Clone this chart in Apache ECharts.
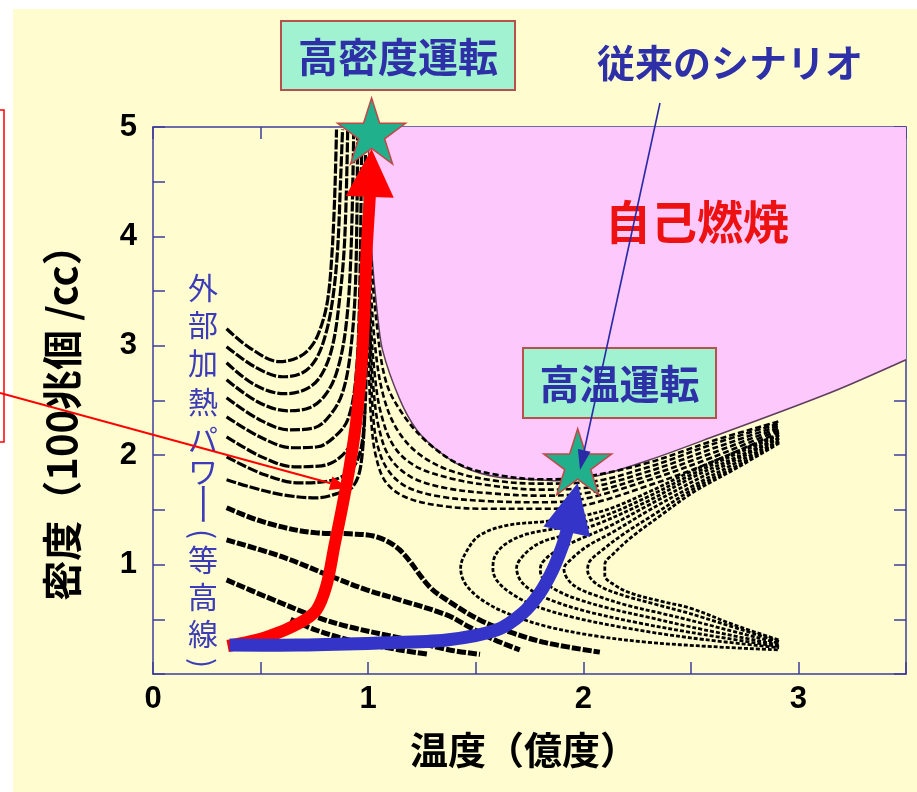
<!DOCTYPE html>
<html>
<head>
<meta charset="utf-8">
<script src="https://cdn.jsdelivr.net/npm/echarts/dist/echarts.min.js"></script>
<style>
  html, body { margin: 0; padding: 0; background: #fff; }
  #main { width: 917px; height: 792px; }
</style>
</head>
<body>
<div id="main"></div>
<script>
// temperature (1e8 deg) vs density (1e14 /cc)
const xTicks = [0, 1, 2, 3]
const yTicks = [1, 2, 3, 4, 5]

// edge of the self-ignition region
const ignitionEdge = [[1.0, 5.0], [1.007, 4.34], [1.016, 3.88], [1.04, 3.35], [1.067, 2.96], [1.147, 2.51], [1.226, 2.23], [1.319, 2.05], [1.44, 1.894], [1.598, 1.80], [1.784, 1.775], [1.877, 1.766], [2.063, 1.81], [2.309, 1.958], [2.602, 2.168], [3.147, 2.571], [3.5, 2.873]]

// external heating power contours, upper left (U shaped)
const contoursUpperLeft = [
  [[0.342, 3.156], [0.449, 2.982], [0.588, 2.855], [0.681, 2.900], [0.742, 3.010], [0.784, 3.193], [0.812, 3.422], [0.830, 3.788], [0.844, 4.337], [0.853, 4.977]],
  [[0.342, 2.992], [0.472, 2.809], [0.602, 2.717], [0.695, 2.754], [0.756, 2.873], [0.802, 3.102], [0.835, 3.422], [0.858, 3.879], [0.872, 4.520], [0.881, 4.977]],
  [[0.342, 2.845], [0.472, 2.644], [0.612, 2.562], [0.705, 2.598], [0.774, 2.708], [0.830, 2.964], [0.867, 3.422], [0.891, 3.971], [0.905, 4.977]],
  [[0.342, 2.690], [0.486, 2.489], [0.626, 2.406], [0.728, 2.434], [0.798, 2.543], [0.853, 2.754], [0.895, 3.147], [0.919, 3.788], [0.933, 4.977]],
  [[0.342, 2.525], [0.495, 2.324], [0.635, 2.232], [0.751, 2.251], [0.821, 2.360], [0.881, 2.571], [0.919, 2.964], [0.942, 3.605], [0.951, 4.977]],
  [[0.342, 2.351], [0.505, 2.159], [0.649, 2.068], [0.765, 2.077], [0.844, 2.168], [0.905, 2.324], [0.942, 2.690], [0.960, 3.422], [0.970, 4.977]],
  [[0.342, 2.168], [0.505, 1.985], [0.658, 1.894], [0.784, 1.903], [0.867, 1.976], [0.928, 2.141], [0.960, 2.507], [0.979, 3.239], [0.988, 4.977]],
  [[0.342, 1.985], [0.519, 1.821], [0.681, 1.747], [0.821, 1.766], [0.900, 1.830], [0.951, 1.958], [0.979, 2.232], [0.993, 2.964], [0.998, 4.337]],
  [[0.342, 1.775], [0.449, 1.711], [0.602, 1.638], [0.760, 1.610], [0.867, 1.656], [0.928, 1.711], [0.965, 1.894], [0.985, 2.4]]
]

// contours hugging the ignition edge
const contoursUpperMid = [
  [[0.995, 4.6], [1.01, 3.9], [1.04, 3.2], [1.085, 2.66], [1.17, 2.35], [1.28, 2.11], [1.43, 1.91], [1.6, 1.82], [1.8, 1.78], [2.0, 1.80], [2.3, 1.93], [2.6, 2.13], [2.91, 2.31]],
  [[0.997, 4.3], [1.01, 3.6], [1.035, 2.95], [1.07, 2.55], [1.13, 2.25], [1.23, 2.02], [1.38, 1.86], [1.58, 1.77], [1.8, 1.74], [2.0, 1.75], [2.3, 1.89], [2.6, 2.1], [2.91, 2.29]],
  [[1.0, 4.0], [1.01, 3.3], [1.03, 2.75], [1.06, 2.38], [1.12, 2.08], [1.22, 1.9], [1.38, 1.79], [1.58, 1.72], [1.8, 1.685], [2.0, 1.7], [2.3, 1.85], [2.6, 2.06], [2.91, 2.27]],
  [[1.0, 3.7], [1.01, 3.1], [1.025, 2.6], [1.05, 2.25], [1.1, 1.98], [1.2, 1.8], [1.36, 1.7], [1.58, 1.65], [1.8, 1.63], [2.0, 1.65], [2.3, 1.81], [2.6, 2.02], [2.91, 2.25]],
  [[1.0, 3.4], [1.01, 2.9], [1.02, 2.45], [1.04, 2.12], [1.09, 1.87], [1.18, 1.71], [1.34, 1.62], [1.56, 1.58], [1.8, 1.57], [2.0, 1.6], [2.3, 1.77], [2.6, 1.98], [2.91, 2.23]],
  [[1.0, 3.1], [1.005, 2.7], [1.015, 2.3], [1.035, 2.0], [1.08, 1.76], [1.17, 1.62], [1.33, 1.54], [1.55, 1.51], [1.8, 1.51], [2.0, 1.54], [2.3, 1.72], [2.6, 1.94], [2.91, 2.21]]
]

// lower left, falling to the right
const contoursLowerLeft = [
  [[0.342, 1.519], [0.528, 1.381], [0.76, 1.29], [0.914, 1.281], [1.04, 1.253], [1.147, 1.134], [1.286, 0.796], [1.365, 0.677], [1.519, 0.494], [1.672, 0.375], [1.83, 0.284], [2.077, 0.2]],
  [[0.342, 1.226], [0.602, 1.07], [0.835, 0.887], [0.993, 0.769], [1.147, 0.677], [1.365, 0.54], [1.47, 0.43], [1.579, 0.32], [1.705, 0.22]],
  [[0.342, 0.86], [0.528, 0.704], [0.76, 0.521], [0.914, 0.43], [1.147, 0.329], [1.379, 0.22], [1.52, 0.18]],
  [[0.64, 0.50], [0.76, 0.40], [0.914, 0.31], [1.147, 0.22], [1.28, 0.18]]
]

// right side, opening to the right
const contoursRight = [
  [[2.91, 2.19], [2.71, 2.03], [2.51, 1.86], [2.3, 1.66], [2.09, 1.49], [1.85, 1.40], [1.65, 1.36], [1.52, 1.27], [1.46, 1.13], [1.43, 0.97], [1.45, 0.83], [1.52, 0.69], [1.64, 0.56], [1.82, 0.44], [2.05, 0.35], [2.3, 0.29], [2.6, 0.25], [2.91, 0.22]],
  [[2.91, 2.18], [2.71, 2.01], [2.51, 1.83], [2.3, 1.62], [2.09, 1.44], [1.9, 1.34], [1.74, 1.28], [1.64, 1.19], [1.59, 1.08], [1.58, 0.96], [1.6, 0.85], [1.67, 0.73], [1.78, 0.62], [1.95, 0.52], [2.2, 0.42], [2.5, 0.33], [2.91, 0.24]],
  [[2.91, 2.16], [2.71, 1.98], [2.51, 1.80], [2.3, 1.58], [2.09, 1.39], [1.93, 1.28], [1.8, 1.2], [1.73, 1.1], [1.69, 0.97], [1.71, 0.85], [1.77, 0.75], [1.87, 0.66], [2.02, 0.57], [2.25, 0.47], [2.5, 0.38], [2.91, 0.25]],
  [[2.91, 2.15], [2.71, 1.96], [2.51, 1.76], [2.3, 1.54], [2.12, 1.35], [1.98, 1.23], [1.87, 1.12], [1.81, 1.02], [1.80, 0.95], [1.82, 0.85], [1.88, 0.76], [1.98, 0.68], [2.12, 0.6], [2.3, 0.52], [2.5, 0.43], [2.91, 0.265]],
  [[2.91, 2.13], [2.71, 1.93], [2.51, 1.72], [2.3, 1.49], [2.14, 1.3], [2.02, 1.17], [1.95, 1.06], [1.91, 0.96], [1.93, 0.86], [1.98, 0.78], [2.07, 0.71], [2.2, 0.63], [2.35, 0.56], [2.5, 0.49], [2.91, 0.28]],
  [[2.91, 2.12], [2.71, 1.9], [2.51, 1.69], [2.33, 1.46], [2.18, 1.27], [2.08, 1.12], [2.03, 1.03], [2.02, 0.95], [2.04, 0.86], [2.1, 0.78], [2.2, 0.71], [2.33, 0.64], [2.5, 0.55], [2.91, 0.295]],
  [[2.91, 2.11], [2.71, 1.88], [2.51, 1.66], [2.36, 1.45], [2.23, 1.26], [2.14, 1.1], [2.1, 1.0], [2.1, 0.9], [2.14, 0.82], [2.22, 0.74], [2.35, 0.67], [2.5, 0.6], [2.7, 0.45], [2.91, 0.31]]
]

// operating paths
const denseRoute = [[0.347, 0.256], [0.528, 0.339], [0.681, 0.467], [0.760, 0.586], [0.807, 0.814], [0.844, 1.180], [0.877, 1.500], [0.914, 1.894], [0.947, 2.351], [0.974, 2.964], [0.993, 3.879], [1.007, 4.337]]
const denseTip = [1.016, 4.80]
const hotRoute = [[0.356, 0.265], [0.681, 0.265], [1.053, 0.284], [1.365, 0.311], [1.598, 0.403], [1.719, 0.558], [1.798, 0.741], [1.858, 0.952], [1.900, 1.153], [1.923, 1.299]]
const hotTip = [1.974, 1.747]
const goalPoints = [[1.016, 4.963], [1.974, 1.94]]

// vertical caption, one glyph per entry: [text, centre y, turned]
const sideCaption = [['外', 288, 0], ['部', 325, 0], ['加', 363, 0], ['熱', 402, 0], ['パ', 440, 0], ['ワ', 472, 0], ['ー', 504, 1], ['(', 534, 1], ['等', 560, 0], ['高', 597, 0], ['線', 634, 0], [')', 663, 1]]

const AXIS_BLUE = '#3c3c9c'
const LABEL_BLUE = '#2e30a8'
const STAR = 'path://M50 0 L61.23 34.55 L97.55 34.55 L68.17 55.9 L79.39 90.45 L50 69.1 L20.61 90.45 L31.83 55.9 L2.45 34.55 L38.77 34.55 Z'
const CJK = '"Noto Sans CJK JP", sans-serif'

const chart = echarts.init(document.getElementById('main'))

function contour(pts, width, dash) {
  return {
    type: 'line',
    data: pts,
    smooth: 0.35,
    symbol: 'none',
    silent: true,
    z: 3,
    lineStyle: { color: '#000', width: width, type: dash, cap: 'butt' }
  }
}

function thickArrow(route, tip, color, width, headLen, headWidth) {
  return {
    type: 'custom',
    silent: true,
    clip: false,
    z: 8,
    data: [0],
    renderItem: function(params, api) {
      const pts = route.map(p => api.coord(p))
      const t = api.coord(tip)
      const last = pts[pts.length - 1]
      let dx = t[0] - last[0]
      let dy = t[1] - last[1]
      const len = Math.hypot(dx, dy)
      dx /= len
      dy /= len
      const bx = t[0] - dx * headLen
      const by = t[1] - dy * headLen
      pts.push([bx + dx * 3, by + dy * 3])
      return {
        type: 'group',
        children: [
          {
            type: 'polyline',
            shape: { points: pts, smooth: 0.3 },
            style: { stroke: color, lineWidth: width, fill: null, lineJoin: 'round' }
          },
          {
            type: 'polygon',
            shape: { points: [t, [bx - dy * headWidth / 2, by + dx * headWidth / 2], [bx + dy * headWidth / 2, by - dx * headWidth / 2]] },
            style: { fill: color }
          }
        ]
      }
    }
  }
}

function thinArrow(x1, y1, x2, y2, color, w, hl, hw) {
  const L = Math.hypot(x2 - x1, y2 - y1)
  const ux = (x2 - x1) / L
  const uy = (y2 - y1) / L
  const bx = x2 - ux * hl
  const by = y2 - uy * hl
  return [
    { type: 'line', z: 60, shape: { x1: x1, y1: y1, x2: bx, y2: by }, style: { stroke: color, lineWidth: w } },
    { type: 'polygon', z: 60, shape: { points: [[x2, y2], [bx - uy * hw / 2, by + ux * hw / 2], [bx + uy * hw / 2, by - ux * hw / 2]] }, style: { fill: color } }
  ]
}

function label(x, y, text, font, color, extra) {
  return Object.assign({
    type: 'text', z: 51, x: x, y: y,
    style: { text: text, font: font, fill: color, align: 'center', verticalAlign: 'middle', textAlign: 'center', textVerticalAlign: 'middle' }
  }, extra || {})
}

function textBox(x, y, w, h, text) {
  return [
    { type: 'rect', z: 50, shape: { x: x, y: y, width: w, height: h }, style: { fill: '#a0f2d0', stroke: '#b5524c', lineWidth: 2 } },
    label(x + w / 2, y + h / 2 + 1, text, 'bold 40px ' + CJK, LABEL_BLUE)
  ]
}

function valueAxis(pos, min, max, showLabels, isY) {
  return {
    type: 'value',
    position: pos,
    min: min,
    max: max,
    interval: 0.5,
    axisLine: { show: true, onZero: false, lineStyle: { color: AXIS_BLUE, width: 1.5 } },
    axisTick: { show: true, inside: true, length: 12, lineStyle: { color: AXIS_BLUE, width: 1.5 } },
    splitLine: { show: false },
    axisLabel: {
      show: showLabels,
      margin: isY ? 16 : 10,
      fontSize: 31,
      fontWeight: 'bold',
      color: '#000',
      fontFamily: '"Liberation Sans", Arial, sans-serif',
      formatter: function(v) {
        const ticks = isY ? yTicks : xTicks
        return ticks.indexOf(v) >= 0 ? String(v) : ''
      }
    }
  }
}

const series = [
  {
    type: 'line',
    data: ignitionEdge,
    smooth: 0.3,
    symbol: 'none',
    silent: true,
    z: 1,
    lineStyle: { color: '#5e3d5e', width: 1.5 },
    areaStyle: { color: '#fdc8fc', origin: 'end', opacity: 1 }
  }
]
contoursUpperLeft.forEach(c => series.push(contour(c, 3.2, [10, 2])))
contoursUpperMid.forEach(c => series.push(contour(c, 2.6, [6, 3])))
contoursLowerLeft.forEach(c => series.push(contour(c, 5, [9, 2])))
contoursRight.forEach(c => series.push(contour(c, 2.8, [4, 2])))
series.push(thickArrow(denseRoute, denseTip, '#ff0000', 12, 48, 48))
series.push(thickArrow(hotRoute, hotTip, '#3434c8', 13, 50, 48))
series.push({
  type: 'scatter',
  data: goalPoints,
  symbol: STAR,
  symbolSize: [68, 66],
  silent: true,
  clip: false,
  z: 10,
  itemStyle: { color: '#20b08c', borderColor: '#c04848', borderWidth: 1.5, opacity: 1 }
})

let graphics = [
  { type: 'rect', z: 40, shape: { x: 0, y: 0, width: 13, height: 792 }, style: { fill: '#fff' } },
  { type: 'rect', z: 40, shape: { x: 0, y: 0, width: 917, height: 9 }, style: { fill: '#fff' } },
  { type: 'rect', z: 41, shape: { x: -120, y: 110, width: 124, height: 332 }, style: { fill: null, stroke: '#ff0000', lineWidth: 1.5 } },
  label(524, 750, '温度（億度）', 'bold 38px ' + CJK, '#000'),
  label(62, 413, '密度（100兆個 /cc）', 'bold 40px ' + CJK, '#000', { rotation: Math.PI / 2 }),
  label(730, 63, '従来のシナリオ', 'bold 38px ' + CJK, LABEL_BLUE),
  label(697, 222, '自己燃焼', 'bold 46px ' + CJK, '#ee1111')
]
sideCaption.forEach(c => {
  const turned = c[2] === 1
  graphics.push(label(203, c[1], c[0], '30px ' + CJK, '#3c3cb8',
    turned ? { rotation: -Math.PI / 2, scaleX: c[0] === 'ー' ? 1.5 : 1 } : {}))
})
graphics = graphics
  .concat(textBox(281, 21, 234, 69, '高密度運転'))
  .concat(textBox(523, 348, 193, 70, '高温運転'))
  .concat(thinArrow(0, 393, 348, 488, '#ff0000', 2, 18, 14))
  .concat(thinArrow(660, 103, 580, 470, '#2a2aa6', 1.6, 20, 13))

chart.setOption({
  backgroundColor: '#fffdcf',
  animation: false,
  grid: { left: 153, top: 127, width: 753, height: 547, show: false },
  xAxis: [valueAxis('bottom', 0, 3.5, true, false), valueAxis('top', 0, 3.5, false, false)],
  yAxis: [valueAxis('left', 0, 5, true, true), valueAxis('right', 0, 5, false, true)],
  graphic: graphics,
  series: series
})
</script>
</body>
</html>
